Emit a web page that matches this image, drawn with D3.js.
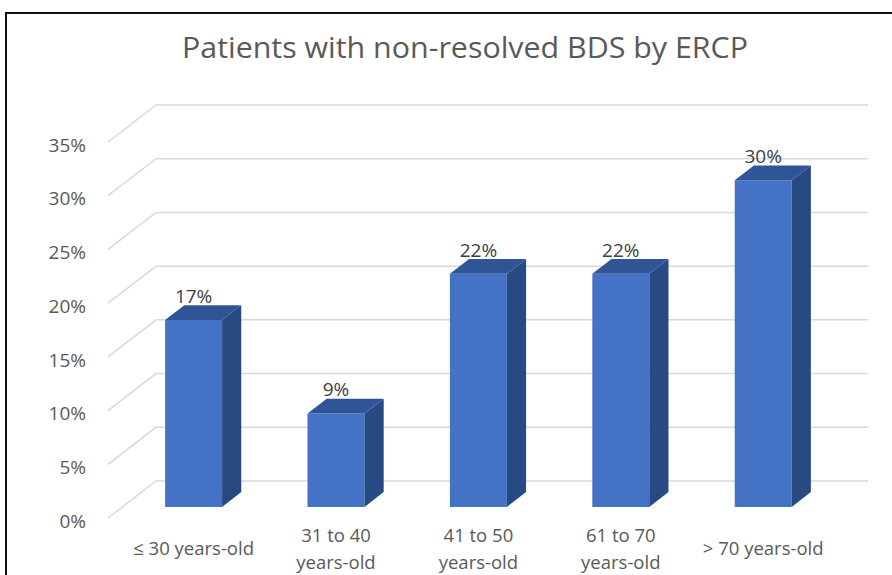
<!DOCTYPE html>
<html>
<head>
<meta charset="utf-8">
<script src="https://cdn.jsdelivr.net/npm/d3@7"></script>
<style>
  body { margin: 0; background: #fff; }
  svg { display: block; font-family: "Open Sans", sans-serif; }
</style>
</head>
<body>
<svg width="892" height="575"></svg>
<script>
var title = "Patients with non-resolved BDS by ERCP";
var categories = ["≤ 30 years-old", "31 to 40 years-old", "41 to 50 years-old", "61 to 70 years-old", "> 70 years-old"];
var tickLabels = [["≤ 30 years-old"], ["31 to 40", "years-old"], ["41 to 50", "years-old"], ["61 to 70", "years-old"], ["> 70 years-old"]];
var values = [0.174, 0.087, 0.217, 0.217, 0.304];
var yTicks = [0, 0.05, 0.10, 0.15, 0.20, 0.25, 0.30, 0.35];

var svg = d3.select("svg");

// frame
svg.append("path")
    .attr("d", "M6,575 V13 H892")
    .attr("fill", "none")
    .attr("stroke", "#111")
    .attr("stroke-width", 2);

// back wall scales
var x = d3.scaleBand()
    .domain(categories)
    .range([156, 868])
    .paddingInner(0.6)
    .paddingOuter(0.3);

var y = d3.scaleLinear()
    .domain([0, 0.35])
    .range([481, 105]);

// oblique depth: z = 0 front, z = 1 back wall
var depthX = 48, depthY = 37;
function proj(xb, v, z) {
    return [xb - (1 - z) * depthX, y(v) + (1 - z) * depthY];
}
var zFront = 0.3, zBack = 0.7;

// gridlines (side floor + back wall)
svg.append("g").selectAll("polyline")
    .data(yTicks)
    .enter()
    .append("polyline")
    .attr("points", function (t) {
        return [proj(156, t, 0), proj(156, t, 1), proj(868, t, 1)].join(" ");
    })
    .attr("fill", "none")
    .attr("stroke", "#d9d9d9")
    .attr("stroke-width", 1.5);

// y tick labels
svg.append("g").selectAll("text")
    .data(yTicks)
    .enter()
    .append("text")
    .attr("x", 86)
    .attr("y", function (t) { return proj(156, t, 0)[1] + 3; })
    .attr("dy", "0.35em")
    .attr("text-anchor", "end")
    .attr("fill", "#595959")
    .style("font-size", "19px")
    .text(d3.format(".0%"));

// bars
var bars = svg.append("g").selectAll("g")
    .data(values)
    .enter()
    .append("g");

function face(pts) { return "M" + pts.join("L") + "Z"; }

bars.append("path")
    .attr("fill", "#4472c4")
    .attr("d", function (d, i) {
        var x0 = x(categories[i]), x1 = x0 + x.bandwidth();
        return face([proj(x0, 0, zFront), proj(x1, 0, zFront), proj(x1, d, zFront), proj(x0, d, zFront)]);
    });

bars.append("path")
    .attr("fill", "#284a82")
    .attr("d", function (d, i) {
        var x1 = x(categories[i]) + x.bandwidth();
        return face([proj(x1, 0, zFront), proj(x1, 0, zBack), proj(x1, d, zBack), proj(x1, d, zFront)]);
    });

bars.append("path")
    .attr("fill", "#2f5597")
    .attr("d", function (d, i) {
        var x0 = x(categories[i]), x1 = x0 + x.bandwidth();
        return face([proj(x0, d, zFront), proj(x1, d, zFront), proj(x1, d, zBack), proj(x0, d, zBack)]);
    });

// data labels
bars.append("text")
    .attr("x", function (d, i) { return proj(x(categories[i]) + x.bandwidth() / 2, d, zFront)[0]; })
    .attr("y", function (d) { return proj(0, d, zBack)[1] - 9; })
    .attr("dy", "0.35em")
    .attr("text-anchor", "middle")
    .attr("fill", "#404040")
    .style("font-size", "19px")
    .text(function (d) { return d3.format(".0%")(d); });

// category labels
var lineH = 27;
svg.append("g").selectAll("text")
    .data(tickLabels)
    .enter()
    .append("text")
    .attr("text-anchor", "middle")
    .attr("fill", "#595959")
    .style("font-size", "18.5px")
    .each(function (lines, i) {
        var cx = proj(x(categories[i]) + x.bandwidth() / 2, 0, zFront)[0];
        var top = 549 - (lines.length - 1) * lineH / 2;
        d3.select(this).selectAll("tspan")
            .data(lines)
            .enter()
            .append("tspan")
            .attr("x", cx)
            .attr("y", function (l, j) { return top + j * lineH; })
            .attr("dy", "0.35em")
            .text(function (l) { return l; });
    });

// title
svg.append("text")
    .attr("x", 465)
    .attr("y", 58)
    .attr("text-anchor", "middle")
    .attr("fill", "#595959")
    .attr("textLength", 566)
    .attr("lengthAdjust", "spacingAndGlyphs")
    .style("font-size", "29px")
    .text(title);
</script>
</body>
</html>
